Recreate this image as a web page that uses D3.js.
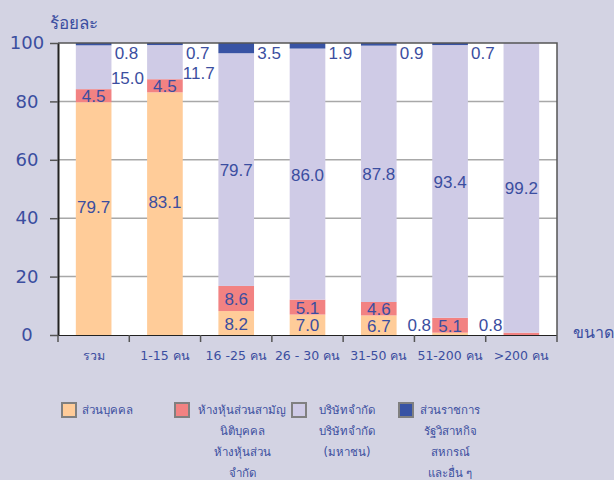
<!DOCTYPE html>
<html>
<head>
<meta charset="utf-8">
<script src="https://cdn.jsdelivr.net/npm/d3@7"></script>
<style>
  body { margin: 0; background: #d3d3e3; }
  svg { display: block; }
  text { fill: #3b4ea0; }
</style>
</head>
<body>
<script>
  // categories (size groups)
  let categories = ["รวม", "1-15 คน", "16 -25 คน", "26 - 30 คน", "31-50 คน", "51-200 คน", ">200 คน"];
  // series values (percent)
  let personal = [79.7, 83.1, 8.2, 7.0, 6.7, 0.8, 0];
  let partnership = [4.5, 4.5, 8.6, 5.1, 4.6, 5.1, 0.8];
  let company = [15.0, 11.7, 79.7, 86.0, 87.8, 93.4, 99.2];
  let government = [0.8, 0.7, 3.5, 1.9, 0.9, 0.7, 0];
  let yTicks = [0, 20, 40, 60, 80, 100];

  let seriesNames = [
    ["ส่วนบุคคล"],
    ["ห้างหุ้นส่วนสามัญ", "นิติบุคคล", "ห้างหุ้นส่วน", "จำกัด"],
    ["บริษัทจำกัด", "บริษัทจำกัด", "(มหาชน)"],
    ["ส่วนราชการ", "รัฐวิสาหกิจ", "สหกรณ์", "และอื่น ๆ"]
  ];
  let colors = ["#ffcc99", "#f28282", "#cfcbe6", "#3853a4"];

  let svg = d3.select("body").append("svg")
    .attr("width", 614)
    .attr("height", 480);

  let rows = categories.map((c, i) => ({
    cat: c,
    s0: personal[i], s1: partnership[i], s2: company[i], s3: government[i]
  }));
  let stack = d3.stack().keys(["s0", "s1", "s2", "s3"])(rows);

  let x = d3.scaleBand()
    .domain(categories)
    .range([58, 557])
    .paddingInner(0.5)
    .paddingOuter(0.25);

  let y = d3.scaleLinear()
    .domain([0, 100])
    .range([335, 43]);

  // plot area
  svg.append("rect")
    .attr("x", 58).attr("y", y(100))
    .attr("width", 557 - 58).attr("height", y(0) - y(100))
    .attr("fill", "#fff");

  // gridlines
  svg.selectAll(".grid")
    .data(yTicks.filter(t => t > 0 && t < 100))
    .enter().append("line")
      .attr("x1", 58).attr("x2", 557)
      .attr("y1", d => y(d)).attr("y2", d => y(d))
      .attr("stroke", "#a8a8a8")
      .attr("stroke-width", 1.5);

  // bars
  stack.forEach((layer, k) => {
    svg.append("g").selectAll("rect")
      .data(layer)
      .enter().append("rect")
        .attr("x", d => x(d.data.cat))
        .attr("width", x.bandwidth())
        .attr("y", d => y(d[1]))
        .attr("height", d => y(d[0]) - y(d[1]))
        .attr("fill", colors[k]);
  });

  // border top & right
  svg.append("path")
    .attr("d", `M58,${y(100)}H557V${y(0)}`)
    .attr("fill", "none")
    .attr("stroke", "#555")
    .attr("stroke-width", 1.5);

  // y axis
  let yAxis = d3.axisLeft(y).tickValues(yTicks).tickSize(8).tickSizeOuter(0);
  let yg = svg.append("g")
    .attr("transform", "translate(58,0)")
    .call(yAxis);
  yg.select(".domain").attr("stroke", "#222").attr("stroke-width", 2);
  yg.selectAll(".tick line").attr("stroke", "#555").attr("stroke-width", 1.5);
  yg.selectAll(".tick text")
    .attr("x", -31)
    .attr("text-anchor", "middle")
    .style("font-family", "'DejaVu Sans', sans-serif")
    .style("font-size", "18px")
    .style("fill", "#3b4ea0");

  // x axis line and boundary ticks
  let step = x.step();
  let bounds = categories.map(c => x(c) - step * 0.25).concat([557]);
  svg.append("line")
    .attr("x1", 58).attr("x2", 557)
    .attr("y1", y(0) + 0.5).attr("y2", y(0) + 0.5)
    .attr("stroke", "#222").attr("stroke-width", 1.2);
  svg.selectAll(".xtick")
    .data(bounds)
    .enter().append("line")
      .attr("x1", d => d).attr("x2", d => d)
      .attr("y1", y(0)).attr("y2", y(0) + 7)
      .attr("stroke", "#555").attr("stroke-width", 1.5);

  svg.selectAll(".xlab")
    .data(categories)
    .enter().append("text")
      .attr("x", d => x(d) + x.bandwidth() / 2)
      .attr("y", 360)
      .attr("text-anchor", "middle")
      .style("font-family", "'DejaVu Sans', sans-serif")
      .style("font-size", "12.5px")
      .text(d => d);

  // data labels
  let labelFont = "'Liberation Sans', Arial, sans-serif";
  stack.forEach((layer, k) => {
    layer.forEach(d => {
      let v = d[1] - d[0];
      if (v <= 0) return;
      let left = x(d.data.cat), right = left + x.bandwidth();
      let lx = left + x.bandwidth() / 2;
      let ly = (y(d[0]) + y(d[1])) / 2 + 1;
      if (k === 0 && v > 50) { ly -= 12; }
      if (k < 2 && v < 1) { lx = left - 13; ly = y(0) - 10; }
      if (k === 2 && v < 50) { lx = right + 16; ly += 10; }
      if (k === 3) { lx = right + 15; ly = y(100) + 10; }
      svg.append("text")
        .attr("x", lx).attr("y", ly)
        .attr("text-anchor", "middle")
        .attr("dominant-baseline", "central")
        .style("font-family", labelFont)
        .style("font-size", "17px")
        .text(v.toFixed(1));
    });
  });

  // axis titles
  svg.append("text")
    .attr("x", 50).attr("y", 29)
    .style("font-family", "'DejaVu Sans', sans-serif")
    .style("font-size", "17px")
    .text("ร้อยละ");
  svg.append("text")
    .attr("x", 573).attr("y", 338)
    .style("font-family", "'DejaVu Sans', sans-serif")
    .style("font-size", "16px")
    .text("ขนาด");

  // legend
  let legendX = [62, 175, 292, 399];
  let legendTextX = [82, 242, 347, 450];
  seriesNames.forEach((lines, k) => {
    svg.append("rect")
      .attr("x", legendX[k]).attr("y", 403)
      .attr("width", 14).attr("height", 14)
      .attr("fill", colors[k])
      .attr("stroke", "#808080")
      .attr("stroke-width", 2);
    lines.forEach((t, j) => {
      svg.append("text")
        .attr("x", legendTextX[k])
        .attr("y", 414 + j * 21)
        .attr("text-anchor", k === 0 ? "start" : "middle")
        .style("font-family", "'DejaVu Sans', sans-serif")
        .style("font-size", "11.5px")
        .text(t);
    });
  });
</script>
</body>
</html>
